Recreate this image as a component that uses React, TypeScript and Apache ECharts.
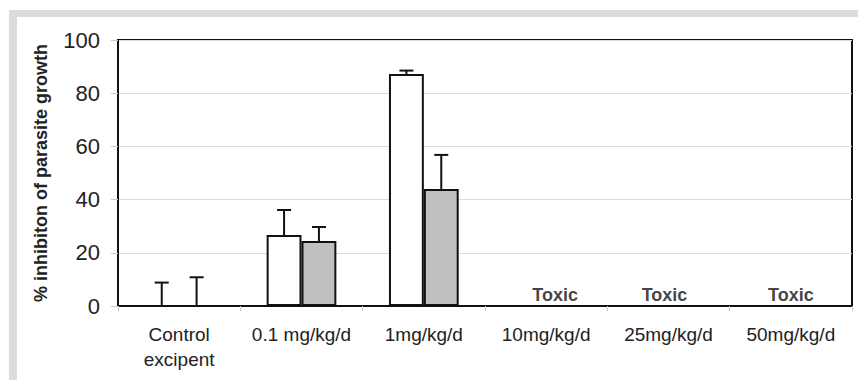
import React, { useEffect, useRef } from "react";
import * as echarts from "echarts";

const categories = ["Control\nexcipent", "0.1 mg/kg/d", "1mg/kg/d", "10mg/kg/d", "25mg/kg/d", "50mg/kg/d"];
const whiteValues: (number | null)[] = [0, 26.7, 87.2, null, null, null];
const whiteErrors: (number | null)[] = [8.8, 9.4, 1.3, null, null, null];
const grayValues: (number | null)[] = [0, 24.4, 44.0, null, null, null];
const grayErrors: (number | null)[] = [10.8, 5.3, 12.8, null, null, null];
const toxicCategories = ["10mg/kg/d", "25mg/kg/d", "50mg/kg/d"];
const toxicLabel = "Toxic";
const toxicLevel = 4.1;
const yTicks = [0, 20, 40, 60, 80, 100];
const yTitle = "% inhibiton of parasite growth";

const FONT = "Liberation Sans, Arial, sans-serif";
const BAR_GAP_CAT = 0.43;
const toxicLabelDx = [9, -4, 0];

function errorData(values: (number | null)[], errs: (number | null)[]) {
  const out: number[][] = [];
  values.forEach((v, i) => {
    const e = errs[i];
    if (v != null && e != null) out.push([i, v, v + e]);
  });
  return out;
}

function errorSeries(values: (number | null)[], errs: (number | null)[], side: number) {
  return {
    type: "custom",
    z: 5,
    data: errorData(values, errs),
    renderItem: (params: any, api: any) => {
      const cat = api.value(0);
      const p0 = api.coord([cat, api.value(1)]);
      const p1 = api.coord([cat, api.value(2)]);
      const band = api.size([1, 0])[0];
      const barW = (band * (1 - BAR_GAP_CAT)) / 2;
      const x = p0[0] + side * barW / 2;
      const style = { stroke: "#111", lineWidth: 2 };
      return {
        type: "group",
        children: [
          { type: "line", shape: { x1: x, y1: p0[1], x2: x, y2: p1[1] }, style },
          { type: "line", shape: { x1: x - 7, y1: p1[1], x2: x + 7, y2: p1[1] }, style },
        ],
      };
    },
  };
}

export default function App() {
  const ref = useRef<HTMLDivElement>(null);
  useEffect(() => {
    if (!ref.current) return;
    const chart = echarts.init(ref.current, null, { renderer: "svg" });
    const option: any = {
      animation: false,
      backgroundColor: "#fff",
      graphic: [
        { type: "rect", shape: { x: 9, y: 10, width: 849, height: 7 }, style: { fill: "#dcdcdc" }, z: 0 },
        { type: "rect", shape: { x: 9, y: 10, width: 8, height: 370 }, style: { fill: "#dcdcdc" }, z: 0 },
      ],
      grid: {
        left: 118,
        right: 6,
        top: 40,
        bottom: 74,
        show: true,
        borderColor: "#111",
        borderWidth: 2,
        backgroundColor: "transparent",
      },
      xAxis: {
        type: "category",
        data: categories,
        axisLine: { lineStyle: { color: "#111", width: 2 } },
        axisTick: { show: true, length: 5, lineStyle: { color: "#c8c8c8", width: 1 } },
        axisLabel: {
          margin: 16,
          fontFamily: FONT,
          fontSize: 19,
          lineHeight: 25,
          color: "#222",
          interval: 0,
        },
      },
      yAxis: {
        type: "value",
        min: yTicks[0],
        max: yTicks[yTicks.length - 1],
        interval: 20,
        name: yTitle,
        nameLocation: "middle",
        nameRotate: 90,
        nameGap: 68,
        nameTextStyle: { fontFamily: FONT, fontSize: 18, fontWeight: "bold", color: "#222" },
        axisLine: { show: true, lineStyle: { color: "#111", width: 2 } },
        axisTick: { show: true, length: 7, lineStyle: { color: "#c8c8c8", width: 1 } },
        axisLabel: { margin: 18, fontFamily: FONT, fontSize: 22, color: "#222" },
        splitLine: { show: true, lineStyle: { color: "#dddddd", width: 1 } },
      },
      series: [
        {
          type: "bar",
          data: whiteValues,
          barGap: "0%",
          barCategoryGap: `${BAR_GAP_CAT * 100}%`,
          itemStyle: { color: "#ffffff", borderColor: "#111", borderWidth: 2 },
          z: 3,
        },
        {
          type: "bar",
          data: grayValues,
          barGap: "0%",
          barCategoryGap: `${BAR_GAP_CAT * 100}%`,
          itemStyle: { color: "#c0c0c0", borderColor: "#111", borderWidth: 2 },
          z: 3,
        },
        errorSeries(whiteValues, whiteErrors, -1),
        errorSeries(grayValues, grayErrors, 1),
        {
          type: "scatter",
          symbolSize: 1,
          itemStyle: { color: "rgba(0,0,0,0)" },
          data: toxicCategories.map((c, i) => ({
            value: [c, toxicLevel],
            label: { offset: [toxicLabelDx[i], 0] },
          })),
          label: {
            show: true,
            position: "inside",
            formatter: toxicLabel,
            fontFamily: FONT,
            fontSize: 18,
            fontWeight: "bold",
            color: "#111",
          },
          z: 6,
        },
      ],
    };
    chart.setOption(option);
    return () => chart.dispose();
  }, []);
  return (
    <div
      ref={ref}
      style={{ position: "absolute", left: 0, top: 0, width: 858, height: 380 }}
    />
  );
}
